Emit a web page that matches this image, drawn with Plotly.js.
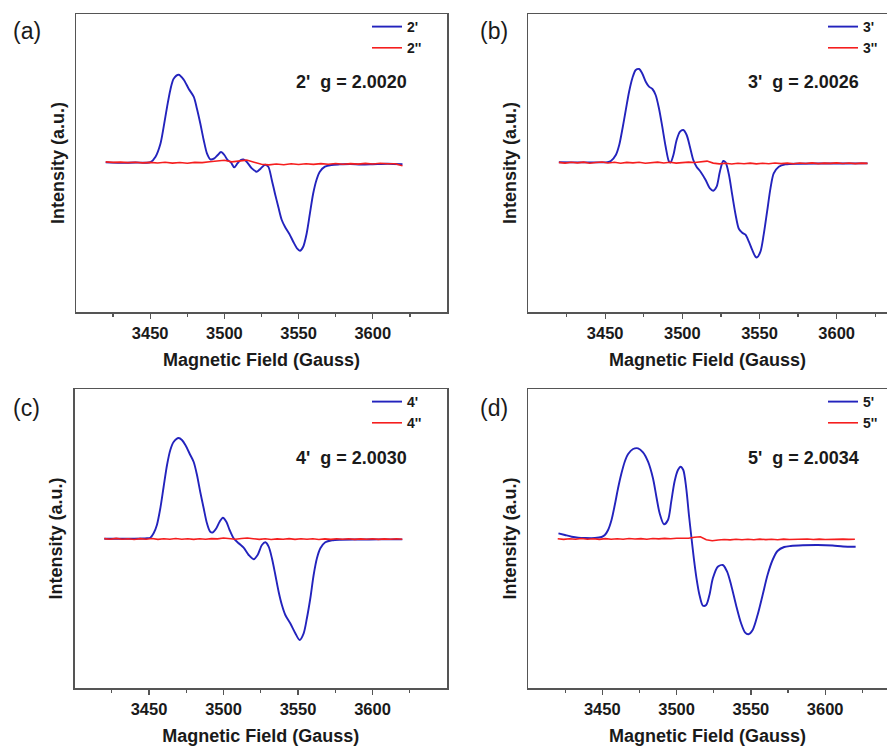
<!DOCTYPE html>
<html>
<head>
<meta charset="utf-8">
<script src="https://cdn.plot.ly/plotly-3.0.1.min.js"></script>
<style>html,body{margin:0;padding:0;background:#fff;}#chart{width:887px;height:747px;}</style>
</head>
<body>
<div id="chart"></div>
<script>
// ---------------- DATA ----------------
const majorTicks = [3450, 3500, 3550, 3600];
const minorTicks = [3425, 3475, 3525, 3575, 3625];
const panelLabels = ['(a)', '(b)', '(c)', '(d)'];
const seriesNamesA = ["2'", "2''"];
const seriesNamesB = ["3'", "3''"];
const seriesNamesC = ["4'", "4''"];
const seriesNamesD = ["5'", "5''"];
const gLabels = ["2'\u00a0 g = 2.0020", "3'\u00a0 g = 2.0026", "4'\u00a0 g = 2.0030", "5'\u00a0 g = 2.0034"];

// (a) sample 2'
const fieldA1 = [3420,3430,3440,3447,3450.2,3453.6,3456.9,3459.1,3461.4,3463.6,3465.8,3469.2,3472.6,3475.9,3479.3,3481.5,3483.8,3486,3488.3,3490.5,3493.2,3495.5,3497.7,3500,3502.1,3504.4,3506.6,3508.8,3511,3512.8,3515,3518.5,3521.8,3524.5,3527.4,3529.6,3531.9,3534.1,3536.3,3538.6,3540.8,3543.7,3546.4,3549.1,3550.9,3553.1,3555.4,3557.6,3559.8,3562.1,3564.3,3567.7,3572.1,3577.7,3585,3592,3600,3610,3620];
const intA1 = [0.3,-0.2,0.2,0,0.5,6,19,36,56,73,84,88,83,74,66,54,39,23,9,3.3,4.3,7.7,10.7,7.7,2.7,0.3,-4.7,-0.7,2.7,3.3,1,-5.7,-9,-5.7,-2,-4,-17,-31,-44,-57,-64,-71,-79,-86,-88,-84,-71,-51,-31,-17,-9,-4,-2.3,-1.7,-1.3,-1.8,-1.5,-1,-1.5];
// (a) sample 2''
const fieldA2 = [3420,3425,3430,3435,3440,3445,3450,3455,3460,3465,3470,3475,3480,3485,3490,3495,3500,3505,3510,3515,3520,3525,3530,3535,3540,3545,3550,3555,3560,3565,3570,3575,3580,3585,3590,3595,3600,3605,3610,3615,3620];
const intA2 = [0.8,0.3,0.6,0.1,0.4,-0.2,0.3,-0.3,0.5,-0.4,0.2,-0.5,0.3,0.1,1.0,1.6,2.4,0.8,1.8,2.6,0.5,-1.5,-2.2,-1.3,-2.0,-1.1,-1.8,-1.0,-1.7,-0.9,-1.6,-0.8,-1.5,-0.9,-1.4,-0.7,-1.3,-0.6,-1.1,-1.0,-3.0];

// (b) sample 3'
const fieldB1 = [3420,3430,3440,3448,3451.5,3453.7,3456.9,3459.1,3461.2,3463.4,3465.5,3467.7,3469.8,3472,3474.1,3476.3,3478.4,3480.6,3482.7,3484.9,3487,3489.2,3491.4,3492.4,3494.2,3496.3,3498.5,3500.6,3502.8,3504.9,3507.1,3509.2,3511.8,3515.1,3517.9,3520,3522.2,3524.3,3526.5,3528,3530.2,3532.3,3534.5,3536.6,3538.8,3540.9,3543.1,3545.2,3547.4,3548.4,3550.6,3552.7,3554.9,3557.1,3559.2,3562.5,3566.8,3575,3590,3605,3620];
const intB1 = [0.5,0.3,0.3,0.3,0.5,1.7,7.7,17.7,34,53,71,85,92.7,93.7,89,81,76,73.7,67.7,54,36,16,1,0.3,7.7,22.7,31,32.7,27.7,16,2.7,-4,-9,-17.3,-25.7,-28,-24,-9,1.7,0.3,-12,-32,-52,-66,-70,-72,-79,-87,-94,-94.7,-89,-72,-49,-25.7,-10.7,-4,-1.7,-1.0,-0.8,-0.8,-0.7];
// (b) sample 3''
const fieldB2 = [3420,3424,3428,3432,3436,3440,3444,3448,3452,3456,3460,3464,3468,3472,3476,3480,3484,3488,3492,3496,3500,3504,3508,3512,3516,3520,3524,3528,3532,3536,3540,3544,3548,3552,3556,3560,3564,3568,3572,3576,3580,3584,3588,3592,3596,3600,3604,3608,3612,3616,3620];
const intB2 = [0.3,-0.4,0.5,-0.2,0.6,-0.5,0.2,0.7,-0.3,0.4,-0.6,0.3,-0.2,0.5,-0.5,0.2,0.6,-0.3,0.4,-0.4,0.3,0.6,0.2,1.2,1.6,-0.4,-1.2,-0.6,-1.3,-0.5,-1.1,-0.4,-1.2,-0.6,-1.0,-0.3,-0.9,-0.4,-1.0,-0.3,-0.8,-0.2,-0.9,-0.4,-0.7,-0.2,-0.8,-0.3,-0.9,-0.4,-0.7];

// (c) sample 4'
const fieldC1 = [3420,3430,3440,3446,3448.6,3450.9,3453.1,3455.3,3457.6,3459.8,3462.1,3464.3,3466.5,3469.9,3472.1,3474.4,3477.7,3480,3482.2,3484.4,3486.7,3488.9,3491.1,3492.9,3495.2,3497.4,3499.6,3501.9,3504.1,3506.8,3510.2,3513.5,3516.9,3520.2,3522.9,3525.8,3528.1,3530.3,3532.5,3534.8,3537,3539.2,3541.5,3544.8,3548.2,3551.1,3553.8,3556,3558.3,3560.5,3562.7,3565,3568.3,3572.8,3578.4,3590,3605,3620];
const intC1 = [0.3,0.3,0.3,0.5,0.8,1.3,5.7,14,30.7,52,74,89,97,101,99,94,84,77,64,47,30.7,15.7,7.3,6.7,10.7,17.3,21.3,17.3,9,0.7,-4.3,-8.7,-16,-20.3,-16,-6,-3.3,-7.7,-19.3,-36,-52.7,-66,-76,-84.3,-94.3,-101,-94.3,-79,-59,-36,-19.3,-9.3,-3.3,-1.3,-0.7,-0.5,-0.4,-0.4];
// (c) sample 4''
const fieldC2 = fieldB2.slice();
const intC2 = [0.4,-0.3,0.6,-0.2,0.3,-0.5,0.4,-0.2,0.5,-0.4,0.2,-0.3,0.5,-0.2,0.3,-0.4,0.2,-0.3,0.4,0.1,1.0,0.2,-0.3,0.5,1.0,0.3,-0.4,0.2,-0.5,0.1,-0.3,0.4,-0.4,0.2,-0.3,0.3,-0.5,0.1,-0.4,0.2,-0.3,0.3,-0.4,0.1,-0.3,0.2,-0.4,0.1,-0.3,0.2,-0.2];

// (d) sample 5'
const fieldD1 = [3420.5,3424.9,3429.4,3433.8,3438.3,3445,3449.5,3451.7,3453.9,3456.2,3458.4,3460.6,3462.9,3465.1,3467.4,3470.7,3474.1,3477.4,3480.8,3484.1,3486.4,3488.6,3491.5,3494.2,3496.4,3498.6,3500.9,3502.7,3504.5,3506.5,3508.3,3509.8,3511.6,3513.4,3515.4,3517.7,3519.9,3522.1,3524.4,3527.7,3531.1,3534,3536.7,3540,3543.4,3546,3548.3,3551.2,3554.5,3557.9,3561.2,3564.6,3567.9,3572.4,3576.8,3585,3595,3605,3612,3620.5];
const intD1 = [5.7,4,2.3,1.3,1,1,2,4,9,19,34,50.7,65.7,77.3,85,90,90.7,86.7,77.3,60.7,42.3,25.7,14.7,19,37.3,57.3,69,72.3,69,50.7,24,4,-19.3,-39.3,-56,-66.7,-66,-56,-39.3,-27.7,-26,-32.7,-46,-66,-84.3,-93.3,-95.3,-91,-76,-56,-36,-21,-12,-8,-7,-6.3,-6,-6.5,-7.5,-7.7];
// (d) sample 5''
const fieldD2 = fieldB2.slice();
const intD2 = [0.2,-0.4,0.3,-0.3,0.5,-0.2,0.3,-0.4,0.4,-0.2,0.3,-0.3,0.5,0,0.4,-0.2,0.5,0.1,0.6,0.2,0.7,0.4,0.8,1.8,2.2,-0.8,-1.7,-1.0,-0.5,-0.9,-0.3,-0.8,-0.2,-0.7,-0.1,-0.6,-0.2,-0.7,-0.1,-0.5,-0.2,-0.6,0,-0.5,-0.1,-0.5,-0.2,-0.6,-0.1,-0.4,-0.2];

// ---------------- LAYOUT HELPERS ----------------
const W = 887, H = 747;
const fx = p => p / W;
const fy = p => 1 - p / H;
const FONT = "Arial, 'Liberation Sans', Helvetica, sans-serif";
const BLUE = '#2323bd';
const RED = '#f51e1e';
const AX = '#555555';

function xaxisDef(x0, x1, r, anchor) {
  return {
    domain: [fx(x0), fx(x1)], range: r, anchor: anchor,
    tickmode: 'array', tickvals: majorTicks, ticktext: majorTicks.map(String),
    ticks: 'outside', ticklen: 5, tickwidth: 1.3, tickcolor: AX, ticklabelstandoff: 1,
    minor: {tickmode: 'array', tickvals: minorTicks, ticks: 'outside', ticklen: 3, tickwidth: 1.3, tickcolor: AX},
    showline: true, linecolor: AX, linewidth: 1.5, mirror: true,
    showgrid: false, zeroline: false,
    tickfont: {family: FONT, size: 16.5, color: '#1a1a1a', weight: 'bold'},
    title: {text: 'Magnetic Field (Gauss)', standoff: 12, font: {family: FONT, size: 18, color: '#1a1a1a', weight: 'bold'}}
  };
}
function yaxisDef(y0, y1, r, anchor, mirror) {
  return {
    domain: [fy(y1), fy(y0)], range: r, anchor: anchor,
    showticklabels: false, ticks: '',
    showline: true, linecolor: AX, linewidth: 1.5, mirror: mirror,
    showgrid: false, zeroline: false,
    title: {text: 'Intensity (a.u.)', standoff: 5, font: {family: FONT, size: 18, color: '#1a1a1a', weight: 'bold'}}
  };
}

const traces = [];
function addPair(xs1, ys1, xs2, ys2, names, xa, ya, leg) {
  traces.push({x: xs1, y: ys1, name: names[0], type: 'scatter', mode: 'lines',
    line: {color: BLUE, width: 1.9, shape: 'spline', smoothing: 0.8}, xaxis: xa, yaxis: ya, legend: leg});
  traces.push({x: xs2, y: ys2, name: names[1], type: 'scatter', mode: 'lines',
    line: {color: RED, width: 1.6}, xaxis: xa, yaxis: ya, legend: leg});
}
addPair(fieldA1, intA1, fieldA2, intA2, seriesNamesA, 'x', 'y', 'legend');
addPair(fieldB1, intB1, fieldB2, intB2, seriesNamesB, 'x2', 'y2', 'legend2');
addPair(fieldC1, intC1, fieldC2, intC2, seriesNamesC, 'x3', 'y3', 'legend3');
addPair(fieldD1, intD1, fieldD2, intD2, seriesNamesD, 'x4', 'y4', 'legend4');

function legendDef(xp, yp) {
  return {x: fx(xp), y: fy(yp), xanchor: 'left', yanchor: 'top', bgcolor: 'rgba(0,0,0,0)', borderwidth: 0,
    font: {family: FONT, size: 14, color: '#1a1a1a', weight: 'bold'}, itemwidth: 30, tracegroupgap: 0};
}

const annotations = [];
const labelPos = [[11, 31], [478, 31], [11, 408], [478, 408]];
panelLabels.forEach((t, i) => annotations.push({
  text: t, xref: 'paper', yref: 'paper', x: fx(labelPos[i][0]), y: fy(labelPos[i][1]),
  xanchor: 'left', yanchor: 'middle', showarrow: false,
  font: {family: FONT, size: 23, color: '#1a1a1a'}
}));
const gPos = [[294, 82], [746, 82], [294, 458], [746, 458]];
gLabels.forEach((t, i) => annotations.push({
  text: t, xref: 'paper', yref: 'paper', x: fx(gPos[i][0]), y: fy(gPos[i][1]),
  xanchor: 'left', yanchor: 'middle', showarrow: false,
  font: {family: FONT, size: 18, color: '#1a1a1a', weight: 'bold'}
}));

const layout = {
  width: W, height: H, margin: {l: 0, r: 0, t: 0, b: 0},
  paper_bgcolor: '#fff', plot_bgcolor: '#fff', showlegend: true,
  xaxis: xaxisDef(76, 447, [3400, 3650], 'y'),
  yaxis: yaxisDef(14, 312, [-149.3, 148.7], 'x', true),
  xaxis2: xaxisDef(528, 887, [3400, 3632.6], 'y2'),
  yaxis2: yaxisDef(14, 312, [-149.3, 148.7], 'x2', false),
  xaxis3: xaxisDef(74.5, 447, [3400, 3650], 'y3'),
  yaxis3: yaxisDef(389, 688, [-149, 150], 'x3', true),
  xaxis4: xaxisDef(528, 887, [3400, 3641.6], 'y4'),
  yaxis4: yaxisDef(389, 688, [-149, 150], 'x4', false),
  legend: legendDef(367, 11),
  legend2: legendDef(823, 11),
  legend3: legendDef(367, 386),
  legend4: legendDef(823, 386),
  annotations: annotations
};

Plotly.newPlot('chart', traces, layout, {displayModeBar: false, staticPlot: true});
</script>
</body>
</html>
